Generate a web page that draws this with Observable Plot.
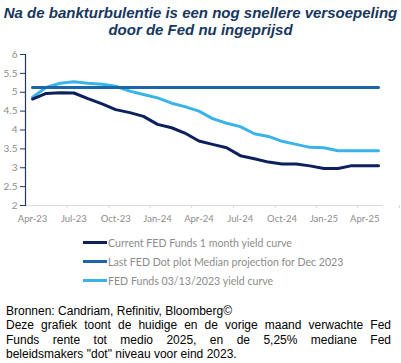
<!DOCTYPE html>
<html><head><meta charset="utf-8">
<script src="https://cdn.jsdelivr.net/npm/d3@7"></script>
<script src="https://cdn.jsdelivr.net/npm/@observablehq/plot@0.6"></script>
<style>
body{margin:0;width:401px;height:363px;overflow:hidden;background:#fff;font-family:"Liberation Sans",Arial,sans-serif;}
.title{padding-top:4px;height:36px;text-align:center;font-weight:bold;font-style:italic;font-size:15px;line-height:17px;color:#17375e;white-space:nowrap;}
#chart svg{display:block;}
.legend{margin-top:3px;}
.item{display:flex;align-items:center;height:19px;padding-left:83px;font-family:Lato,"Open Sans",sans-serif;font-size:10.6px;color:#8c8c8c;}
.sw{width:24px;height:3px;margin-right:1px;}
.caption{margin-top:14px;padding:0 10px 0 6px;font-size:12px;line-height:14.3px;color:#000;}
.caption .j{text-align:justify;text-align-last:justify;}
</style></head>
<body>
<div class="title">Na de bankturbulentie is een nog snellere versoepeling<br>door de Fed nu ingeprijsd</div>
<div id="chart"></div>
<div class="legend" id="legend"></div>
<div class="caption" id="caption"></div>
<script>
const months = ["2023-04","2023-05","2023-06","2023-07","2023-08","2023-09","2023-10","2023-11","2023-12",
  "2024-01","2024-02","2024-03","2024-04","2024-05","2024-06","2024-07","2024-08","2024-09","2024-10","2024-11","2024-12",
  "2025-01","2025-02","2025-03","2025-04","2025-05"];
const current = [4.82,4.97,4.99,4.98,4.83,4.69,4.54,4.46,4.36,4.15,4.06,3.92,3.71,3.62,3.53,3.32,3.24,3.15,3.10,3.10,3.05,2.98,2.98,3.05,3.05,3.05];
const prior = [4.87,5.13,5.24,5.28,5.24,5.21,5.16,5.03,4.94,4.85,4.71,4.62,4.50,4.30,4.18,4.09,3.90,3.83,3.70,3.62,3.54,3.53,3.45,3.45,3.45,3.45];
const dotMedian = 5.125;
const seriesNames = ["Current FED Funds 1 month yield curve","Last FED Dot plot Median projection for Dec 2023","FED Funds 03/13/2023 yield curve"];
const seriesColors = ["#0d1f5c","#1b66a8","#3ab4e8"];
const xTickLabels = ["2023-04","2023-07","2023-10","2024-01","2024-04","2024-07","2024-10","2025-01","2025-04"];
const yTicks = [2,2.5,3,3.5,4,4.5,5,5.5,6];
const captionLines = [
  "Bronnen: Candriam, Refinitiv, Bloomberg©",
  "Deze grafiek toont de huidige en de vorige maand verwachte Fed",
  "Funds rente tot medio 2025, en de 5,25% mediane Fed",
  "beleidsmakers \"dot\" niveau voor eind 2023."
];

const parse = d3.utcParse("%Y-%m");
const dates = months.map(parse);
const rows = [];
dates.forEach((d,i)=>{
  rows.push({date:d, value:current[i], s:seriesNames[0]});
  rows.push({date:d, value:dotMedian, s:seriesNames[1]});
  rows.push({date:d, value:prior[i], s:seriesNames[2]});
});
const labelDates = xTickLabels.map(parse);
const minorDates = labelDates.map(d => new Date(Date.UTC(d.getUTCFullYear(), d.getUTCMonth()+2, 16)));

const plot = Plot.plot({
  width: 401, height: 190,
  marginLeft: 25, marginRight: 18, marginTop: 14, marginBottom: 25,
  insetLeft: 7, insetRight: 5,
  style: {fontFamily: "Lato, 'Open Sans', sans-serif", fontSize: "9.5px"},
  x: {type: "utc", domain: [dates[0], dates[dates.length-1]]},
  y: {domain: [2, 6]},
  color: {domain: seriesNames, range: seriesColors},
  marks: [
    Plot.ruleY([2], {stroke: "#d9d9d9", strokeWidth: 1}),
    Plot.axisX({ticks: minorDates, tickSize: 3, stroke: "#d9d9d9", tickFormat: () => "", label: null}),
    Plot.axisX({ticks: labelDates, tickSize: 0, tickPadding: 10, tickFormat: d3.utcFormat("%b-%y"), fill: "#8c8c8c", label: null}),
    Plot.axisY({ticks: yTicks, tickSize: 5, tickPadding: 3, stroke: "#1f3864", fill: "#8c8c8c", tickFormat: d => String(d), label: null, fontSize: 10}),
    Plot.frame({anchor: "left", stroke: "#1f3864", strokeWidth: 1.2}),
    Plot.line(rows.filter(r => r.s === seriesNames[2]), {x: "date", y: "value", stroke: "s", strokeWidth: 3}),
    Plot.line(rows.filter(r => r.s === seriesNames[1]), {x: "date", y: "value", stroke: "s", strokeWidth: 3}),
    Plot.line(rows.filter(r => r.s === seriesNames[0]), {x: "date", y: "value", stroke: "s", strokeWidth: 3})
  ]
});
document.getElementById("chart").appendChild(plot);

const leg = document.getElementById("legend");
seriesNames.forEach((n,i)=>{
  const it = document.createElement("div"); it.className = "item";
  const sw = document.createElement("span"); sw.className = "sw"; sw.style.background = seriesColors[i];
  const t = document.createElement("span"); t.textContent = n;
  it.appendChild(sw); it.appendChild(t); leg.appendChild(it);
});
const cap = document.getElementById("caption");
captionLines.forEach((l,i)=>{
  const d = document.createElement("div");
  if (i === 1 || i === 2) d.className = "j";
  d.textContent = l; cap.appendChild(d);
});
</script>
</body></html>
